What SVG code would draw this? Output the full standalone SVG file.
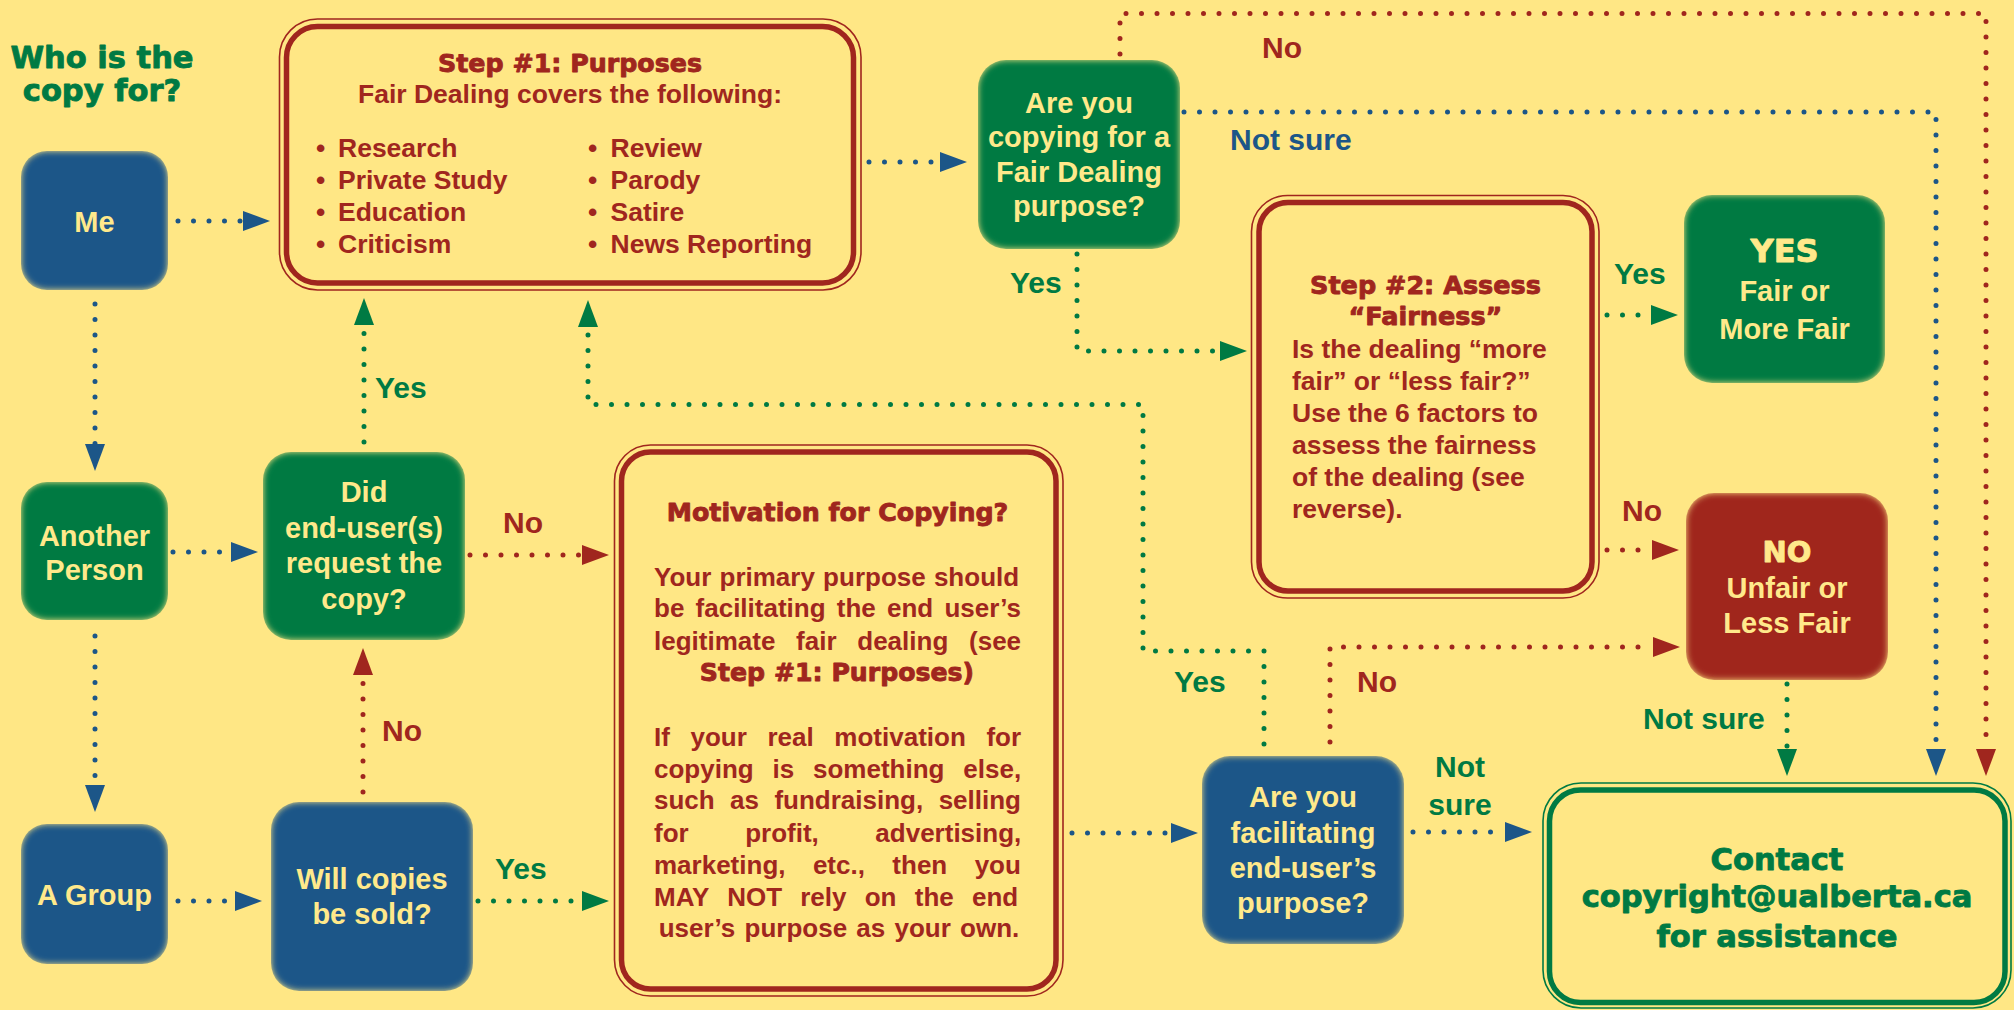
<svg xmlns="http://www.w3.org/2000/svg" width="2014" height="1010" viewBox="0 0 2014 1010">
<style>
.n{font-family:"Liberation Sans",Arial,sans-serif;font-weight:bold;font-size:29px;fill:#FFE98B;text-anchor:middle}
.h{font-family:"DejaVu Sans",Verdana,sans-serif;font-weight:bold;stroke-width:0.9px;stroke-linejoin:round}
.a{font-family:"Liberation Sans",Arial,sans-serif;font-weight:bold}
.l{font-family:"Liberation Sans",Arial,sans-serif;font-weight:bold;font-size:30px}
.red{fill:#A0261E}.grn{fill:#007A43}.blu{fill:#1C5688}
.h.red{stroke:#A0261E}.h.grn{stroke:#007A43}.h.lt{fill:#FFE98B;stroke:#FFE98B}
.mid{text-anchor:middle}
.dot{fill:none;stroke-width:5;stroke-linecap:round;stroke-dasharray:0 15.5}
.sb{stroke:#1C5688}.sg{stroke:#007A43}.sr{stroke:#A0261E}
.thin{fill:none;stroke-width:1.6}.thick{fill:none;stroke-width:5.5}
</style>
<defs>
<filter id="feather" x="-5%" y="-5%" width="110%" height="110%">
<feGaussianBlur in="SourceGraphic" stdDeviation="3" result="b"/>
<feComposite in="b" in2="SourceGraphic" operator="in"/>
</filter>
<marker id="mb" markerUnits="userSpaceOnUse" markerWidth="28" markerHeight="20" viewBox="0 0 28 20" refX="0" refY="10" orient="auto"><path d="M0,0 L27,10 L0,20 z" fill="#1C5688"/></marker>
<marker id="mg" markerUnits="userSpaceOnUse" markerWidth="28" markerHeight="20" viewBox="0 0 28 20" refX="0" refY="10" orient="auto"><path d="M0,0 L27,10 L0,20 z" fill="#007A43"/></marker>
<marker id="mr" markerUnits="userSpaceOnUse" markerWidth="28" markerHeight="20" viewBox="0 0 28 20" refX="0" refY="10" orient="auto"><path d="M0,0 L27,10 L0,20 z" fill="#A0261E"/></marker>
</defs>
<rect width="2014" height="1010" fill="#FFE785"/>

<g id="title">
<text class="h grn mid" font-size="30.5" x="102" y="68">Who is the</text>
<text class="h grn mid" font-size="30.5" x="102" y="101">copy for?</text>
</g>

<g id="connectors">
<path class="dot sb" d="M178,221 H243" marker-end="url(#mb)"/>
<path class="dot sb" d="M869,162 H940" marker-end="url(#mb)"/>
<path class="dot sb" d="M95,304 V444" marker-end="url(#mb)"/>
<path class="dot sb" d="M95,636 V785" marker-end="url(#mb)"/>
<path class="dot sb" d="M173,552 H231" marker-end="url(#mb)"/>
<path class="dot sb" d="M178,901 H235" marker-end="url(#mb)"/>
<path class="dot sg" d="M364,442 V325" marker-end="url(#mg)"/>
<path class="dot sr" d="M363,792 V675" marker-end="url(#mr)"/>
<path class="dot sr" d="M470,555 H582" marker-end="url(#mr)"/>
<path class="dot sg" d="M478,901 H582" marker-end="url(#mg)"/>
<path class="dot sb" d="M1072,833 H1171" marker-end="url(#mb)"/>
<path class="dot sg" d="M1264,744 V651 H1143 V404.5 H588 V327" marker-end="url(#mg)"/>
<path class="dot sg" d="M1077,254 V351 H1220" marker-end="url(#mg)"/>
<path class="dot sr" d="M1120,54 V13.5 H1986 V749" marker-end="url(#mr)"/>
<path class="dot sb" d="M1184,112 H1936 V749" marker-end="url(#mb)"/>
<path class="dot sg" d="M1607,315 H1651" marker-end="url(#mg)"/>
<path class="dot sr" d="M1607,550 H1652" marker-end="url(#mr)"/>
<path class="dot sr" d="M1330,742 V647 H1653" marker-end="url(#mr)"/>
<path class="dot sg" d="M1787,684 V749" marker-end="url(#mg)"/>
<path class="dot sb" d="M1413,832 H1505" marker-end="url(#mb)"/>
</g>

<g id="labels">
<text class="l grn" x="375" y="398">Yes</text>
<text class="l red" x="503" y="533">No</text>
<text class="l red" x="382" y="741">No</text>
<text class="l grn" x="495" y="879">Yes</text>
<text class="l red" x="1262" y="58">No</text>
<text class="l blu" x="1230" y="150" font-size="31">Not sure</text>
<text class="l grn" x="1010" y="293">Yes</text>
<text class="l grn" x="1614" y="284">Yes</text>
<text class="l red" x="1622" y="521">No</text>
<text class="l grn" x="1174" y="692">Yes</text>
<text class="l red" x="1357" y="692">No</text>
<text class="l grn mid" x="1460" y="777" font-size="31">Not</text>
<text class="l grn mid" x="1460" y="815" font-size="31">sure</text>
<text class="l grn" x="1643" y="729" font-size="31">Not sure</text>
</g>

<g id="me">
<rect x="21" y="151" width="147" height="139" rx="26" fill="#1C5688" filter="url(#feather)"/>
<text class="n" x="94.5" y="232">Me</text>
</g>
<g id="another-person">
<rect x="21" y="482" width="147" height="138" rx="26" fill="#007A43" filter="url(#feather)"/>
<text class="n" x="94.5" y="546">Another</text>
<text class="n" x="94.5" y="580">Person</text>
</g>
<g id="a-group">
<rect x="21" y="824" width="147" height="140" rx="26" fill="#1C5688" filter="url(#feather)"/>
<text class="n" x="94.5" y="905">A Group</text>
</g>
<g id="did-request">
<rect x="263" y="452" width="202" height="188" rx="28" fill="#007A43" filter="url(#feather)"/>
<text class="n" x="364" y="502">Did</text>
<text class="n" x="364" y="538">end-user(s)</text>
<text class="n" x="364" y="573">request the</text>
<text class="n" x="364" y="609">copy?</text>
</g>
<g id="will-sold">
<rect x="271" y="802" width="202" height="189" rx="28" fill="#1C5688" filter="url(#feather)"/>
<text class="n" x="372" y="889">Will copies</text>
<text class="n" x="372" y="924">be sold?</text>
</g>

<g id="step1">
<rect class="thin sr" x="279.5" y="19" width="581.5" height="271" rx="38"/>
<rect class="thick sr" x="286.5" y="26.5" width="567" height="256.5" rx="31"/>
<text class="h red mid" font-size="25.3" x="570" y="72">Step #1: Purposes</text>
<text class="a red mid" font-size="26.5" x="570" y="103">Fair Dealing covers the following:</text>
<g class="a red" font-size="26.5">
<text x="316" y="157">•<tspan x="338">Research</tspan></text>
<text x="316" y="189">•<tspan x="338">Private Study</tspan></text>
<text x="316" y="221">•<tspan x="338">Education</tspan></text>
<text x="316" y="253">•<tspan x="338">Criticism</tspan></text>
<text x="588" y="157">•<tspan x="610.5">Review</tspan></text>
<text x="588" y="189">•<tspan x="610.5">Parody</tspan></text>
<text x="588" y="221">•<tspan x="610.5">Satire</tspan></text>
<text x="588" y="253">•<tspan x="610.5">News Reporting</tspan></text>
</g>
</g>

<g id="motivation">
<rect class="thin sr" x="614.5" y="445" width="448.5" height="551" rx="36"/>
<rect class="thick sr" x="621.5" y="452" width="434.5" height="537" rx="29"/>
<text class="h red mid" font-size="25.3" x="837.5" y="521">Motivation for Copying?</text>
<g class="a red" font-size="26">
<text x="654" y="586" word-spacing="1">Your primary purpose should</text>
<text x="654" y="617" word-spacing="4">be facilitating the end user’s</text>
<text x="654" y="650" word-spacing="13.5">legitimate fair dealing (see</text>
<text x="654" y="746" word-spacing="13.4">If your real motivation for</text>
<text x="654" y="778" word-spacing="11.6">copying is something else,</text>
<text x="654" y="809" word-spacing="8.2">such as fundraising, selling</text>
<text x="654" y="842" word-spacing="49.3">for profit, advertising,</text>
<text x="654" y="874" word-spacing="20.2">marketing, etc., then you</text>
<text x="654" y="906" word-spacing="11">MAY NOT rely on the end</text>
<text x="839" y="937" word-spacing="2" text-anchor="middle">user’s purpose as your own.</text>
</g>
<text class="h red mid" font-size="25.2" x="837" y="681">Step #1: Purposes)</text>
</g>

<g id="fair-dealing-purpose">
<rect x="978" y="60" width="202" height="189" rx="28" fill="#007A43" filter="url(#feather)"/>
<text class="n" x="1079" y="113">Are you</text>
<text class="n" x="1079" y="147">copying for a</text>
<text class="n" x="1079" y="182">Fair Dealing</text>
<text class="n" x="1079" y="216">purpose?</text>
</g>

<g id="step2">
<rect class="thin sr" x="1251.5" y="195.5" width="347.5" height="402.5" rx="36"/>
<rect class="thick sr" x="1259" y="202.5" width="333" height="388.5" rx="29"/>
<text class="h red mid" font-size="25.5" x="1425.5" y="294">Step #2: Assess</text>
<text class="h red mid" font-size="25.5" x="1425.5" y="325">“Fairness”</text>
<g class="a red" font-size="26.5">
<text x="1292" y="358">Is the dealing “more</text>
<text x="1292" y="390">fair” or “less fair?”</text>
<text x="1292" y="422">Use the 6 factors to</text>
<text x="1292" y="454">assess the fairness</text>
<text x="1292" y="486">of the dealing (see</text>
<text x="1292" y="518">reverse).</text>
</g>
</g>

<g id="yes-fair">
<rect x="1684" y="195" width="201" height="188" rx="28" fill="#007A43" filter="url(#feather)"/>
<text class="h lt mid" font-size="32" x="1784.5" y="261.5">YES</text>
<text class="n" font-size="31.5" x="1784.5" y="300.5">Fair or</text>
<text class="n" font-size="31.5" x="1784.5" y="339">More Fair</text>
</g>

<g id="no-unfair">
<rect x="1686" y="493" width="202" height="187" rx="28" fill="#A0261E" filter="url(#feather)"/>
<text class="h lt mid" font-size="29" x="1787" y="562">NO</text>
<text class="n" x="1787" y="598">Unfair or</text>
<text class="n" x="1787" y="633">Less Fair</text>
</g>

<g id="facilitating">
<rect x="1202" y="756" width="202" height="188" rx="28" fill="#1C5688" filter="url(#feather)"/>
<text class="n" x="1303" y="807">Are you</text>
<text class="n" x="1303" y="843">facilitating</text>
<text class="n" x="1303" y="878">end-user’s</text>
<text class="n" x="1303" y="913">purpose?</text>
</g>

<g id="contact">
<rect class="thin sg" x="1543" y="783" width="468" height="225" rx="38"/>
<rect class="thick sg" x="1549.5" y="790" width="455.5" height="212.5" rx="31"/>
<text class="h grn mid" font-size="30.5" x="1777" y="870">Contact</text>
<text class="h grn mid" font-size="30.5" x="1777" y="907">copyright@ualberta.ca</text>
<text class="h grn mid" font-size="30.5" x="1777" y="947">for assistance</text>
</g>
</svg>
